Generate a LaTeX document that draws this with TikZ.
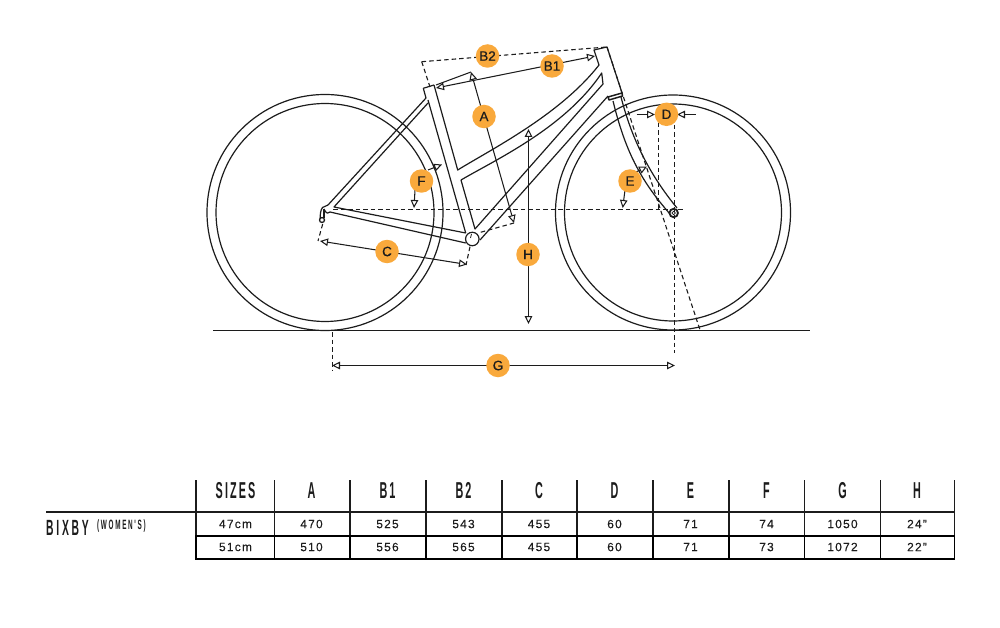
\documentclass[tikz,border=0pt]{standalone}
\usepackage{fontspec}
\usetikzlibrary{arrows.meta}
\setmainfont{Liberation Sans}
\newfontfamily\condfont[FakeStretch=0.47,LetterSpace=9]{Liberation Sans Bold}
\newfontfamily\widecond[FakeStretch=0.47,LetterSpace=12.5]{Liberation Sans Bold}
\newfontfamily\numfont[LetterSpace=10,FakeBold=0.15]{Liberation Sans}
\newfontfamily\badgefont[FakeBold=0.6]{Liberation Sans}
\definecolor{ink}{HTML}{1C1C1C}
\definecolor{badge}{HTML}{F9A93C}
\tikzset{
  frameline/.style={draw=ink,line width=1.2pt,line join=round},
  dimline/.style={draw=ink,line width=1.05pt,{Triangle[open,length=8pt,width=7.5pt,fill=white]}-{Triangle[open,length=8pt,width=7.5pt,fill=white]}},
  leader/.style={draw=ink,line width=1.05pt,-{Triangle[open,length=8pt,width=7.5pt,fill=white]}},
  witness/.style={draw=ink,line width=1.1pt,dash pattern=on 4.5pt off 3pt},
  badgenode/.style={circle,fill=badge,minimum size=23.5pt,inner sep=0pt,font=\fontsize{13.5}{14}\badgefont,text=ink},
  headcell/.style={font=\fontsize{23}{24}\condfont,text=ink,inner sep=0pt,anchor=center},
  numcell/.style={font=\fontsize{12}{13}\numfont,text=ink,inner sep=0pt,anchor=center},
  thingrid/.style={draw=ink,line width=1.1pt},
  thickgrid/.style={draw=black,line width=1.9pt}
}
\begin{document}
\begin{tikzpicture}[x=1pt,y=-1pt]
\useasboundingbox (0,0) rectangle (1000,628);
% named points
\coordinate (axleR) at (322,220);
\coordinate (axleF) at (673.7,213);
\coordinate (bbC) at (472.3,239);
\coordinate (gndL) at (213,330.5);
\coordinate (gndR) at (810,330.5);
\coordinate (hl1) at (333,209.5);
\coordinate (hl2) at (684,209.5);
\coordinate (steerTop) at (607,47);
\coordinate (steerBot) at (700,330);
\coordinate (cornerTL) at (421.7,61.7);
\coordinate (seatTop) at (430,87);
\coordinate (b1L) at (436,88);
\coordinate (b1R) at (595,56);
\coordinate (aTop) at (471,72);
\coordinate (aBot) at (514,223);
\coordinate (aWit) at (436,85);
\coordinate (aWit2) at (478,233);
\coordinate (cL) at (320,241);
\coordinate (cR) at (467,264.5);
\coordinate (cW1) at (322.7,224);
\coordinate (cW2) at (318,241);
\coordinate (cW3) at (470,246.7);
\coordinate (cW4) at (466,265);
\coordinate (hTop) at (528.5,129);
\coordinate (hBot) at (528.5,324);
\coordinate (gL) at (332,365.5);
\coordinate (gR) at (675,365.5);
\coordinate (gW1) at (332.5,332);
\coordinate (gW2) at (332.5,370);
\coordinate (gW3) at (674.5,125);
\coordinate (gW4) at (674.5,353);
\coordinate (dW1) at (658.5,123);
\coordinate (dW2) at (658.5,209);
\coordinate (dFromL) at (636.7,114.5);
\coordinate (dToL) at (655,114.5);
\coordinate (dFromR) at (695.7,114.5);
\coordinate (dToR) at (677,114.5);
\coordinate (eTail) at (625,190);
\coordinate (eHead) at (622.7,208);
\coordinate (eTail2) at (636,172);
\coordinate (eHead2) at (647,166.5);
\coordinate (fTail) at (415,190);
\coordinate (fHead) at (414,208);
\coordinate (fTail2) at (428,170);
\coordinate (fHead2) at (442,164.5);

% wheels
\node[circle,draw=ink,line width=1.2pt,minimum size=236pt,inner sep=0pt] (rearOuter) at (325,212.5) {};
\node[circle,draw=ink,line width=1.2pt,minimum size=218pt,inner sep=0pt] (rearInner) at (325,212.5) {};
\node[circle,draw=ink,line width=1.2pt,minimum size=235pt,inner sep=0pt] (frontOuter) at (673,212.5) {};
\node[circle,draw=ink,line width=1.2pt,minimum size=217pt,inner sep=0pt] (frontInner) at (673,212.5) {};
\draw[draw=ink,line width=1.1pt] (gndL) -- (gndR);

% frame
\path[frameline] (428,100) -- (465.7,233);
\path[frameline] (434,85) -- (457.7,170) .. controls (490,150) and (560,115) .. (599,65) -- (594,50) -- (607,47) -- (622,93);
\path[frameline] (461,180) .. controls (495,160) and (565,128) .. (601.7,73) -- (603,84) -- (475,229) -- (461,180);
\path[frameline] (423.3,88.3) -- (434,85);
\path[frameline] (423.3,88.3) -- (426,98) -- (328,205);
\path[frameline] (428,103) -- (334,207) -- (465.7,233);
\path[frameline] (330,212) -- (465.7,243);
\path[frameline] (608,96) -- (480,240);
% headset
\path[frameline,line width=1.5pt] (608,97) -- (622,93) -- (622.5,96) -- (609,100) -- cycle;
% fork
\path[frameline] (613,101) .. controls (625,150) and (640,180) .. (670,214);
\path[frameline] (621,97) .. controls (632,140) and (650,175) .. (677,208);
% bottom bracket and axles
\node[circle,draw=ink,fill=white,line width=1.2pt,minimum size=13.5pt,inner sep=0pt] (bb) at (bbC) {};
\draw[draw=ink,line width=0.8pt] (471.5,234) -- (470.5,238);
\node[circle,draw=ink,fill=white,line width=1.8pt,minimum size=8.5pt,inner sep=0pt] (hubF) at (axleF) {};
\node[circle,draw=ink,line width=0.7pt,minimum size=3.5pt,inner sep=0pt] (hubF2) at (axleF) {};
\node[circle,draw=ink,fill=white,line width=1.3pt,minimum size=5pt,inner sep=0pt] (hubR) at (axleR) {};
\path[frameline] (328,205) -- (322.5,207.5) .. controls (320.5,210) and (320,215) .. (320.3,219);
\path[frameline] (324,209) -- (324,218);
\path[frameline] (324,209) .. controls (326,214) and (329,214) .. (330,212);

% dashed guides
\path[witness] (hl1) -- (hl2);
\path[witness] (steerTop) -- (steerBot);
\path[witness] (cornerTL) -- (steerTop);
\path[witness] (cornerTL) -- (seatTop);
\path[witness] (aBot) -- (aWit2);
\path[witness] (cW1) -- (cW2);
\path[witness] (cW3) -- (cW4);
\path[witness] (gW1) -- (gW2);
\path[witness] (gW3) -- (gW4);
\path[witness] (dW1) -- (dW2);

% dimensions
\draw[draw=ink,line width=1.05pt] (aWit) -- (aTop);
\path[dimline] (b1L) -- (b1R);
\path[dimline] (aTop) -- (aBot);
\path[dimline] (cL) -- (cR);
\path[dimline] (hTop) -- (hBot);
\path[dimline] (gL) -- (gR);
\path[leader] (dFromL) -- (dToL);
\path[leader] (dFromR) -- (dToR);
\path[leader] (eTail) -- (eHead);
\path[leader] (eTail2) -- (eHead2);
\path[leader] (fTail) -- (fHead);
\path[leader] (fTail2) -- (fHead2);

% badges
\node[badgenode] (nB2) at (487.5,56) {B2};
\node[badgenode] (nB1) at (552,66) {B1};
\node[badgenode] (nA) at (484,116.5) {A};
\node[badgenode] (nD) at (666.5,114.3) {D};
\node[badgenode] (nE) at (630,181) {E};
\node[badgenode] (nF) at (421.5,181) {F};
\node[badgenode] (nC) at (387,251.5) {C};
\node[badgenode] (nH) at (528,254.5) {H};
\node[badgenode] (nG) at (498,365.5) {G};

% table grid
\coordinate (tblL) at (46,512);
\coordinate (tblR) at (955,512);
\draw[thingrid] (tblL) -- (tblR);
\foreach \xx in {196,274.5,350,426,502,577,653,729,804.5,880.5,954.5}{
  \draw[thingrid] (\xx,480) -- (\xx,536);
  \draw[thickgrid] (\xx,536) -- (\xx,559);
}
\draw[thickgrid] (195.2,536) -- (955.3,536);
\draw[thickgrid] (195.2,559) -- (955.3,559);

% table text
\foreach \xc/\ta/\tb/\tc [count=\i] in {
 235.5/SIZES/47cm/51cm,
 311.5/A/470/510,
 387.5/B1/525/556,
 463.5/B2/543/565,
 539/C/455/455,
 614.5/D/60/60,
 690.5/E/71/71,
 766.5/F/74/73,
 842.5/G/1050/1072,
 917/H/24”/22”}{
  \node[headcell] (hd\i) at (\xc,490.5) {\ta};
  \node[numcell] (ra\i) at (\xc,524) {\tb};
  \node[numcell] (rb\i) at (\xc,547) {\tc};
}
\node[font=\fontsize{22}{23}\widecond,text=ink,inner sep=0pt,anchor=base west] (bixby) at (46,535.5) {BIXBY};
\node[font=\fontsize{13.5}{14}\widecond,text=ink,inner sep=0pt,anchor=base west] (womens) at (97,529) {(WOMEN'S)};
\end{tikzpicture}
\end{document}
